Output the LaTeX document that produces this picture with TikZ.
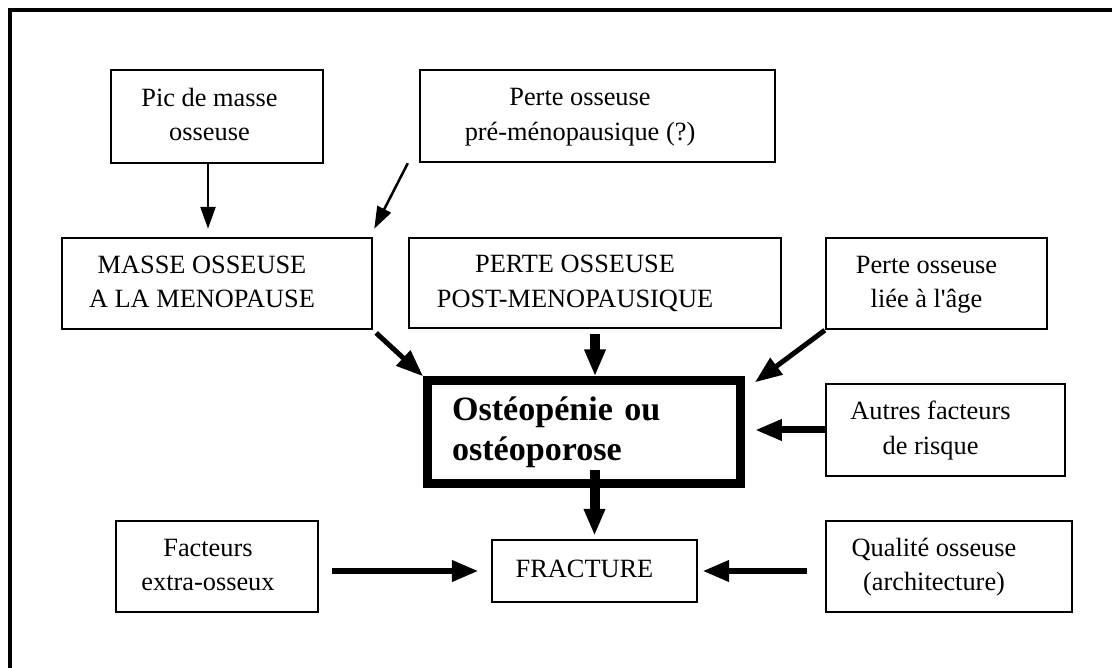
\documentclass[tikz,border=0pt]{standalone}
\usepackage{fontspec}
\setmainfont{Liberation Serif}
\usetikzlibrary{arrows.meta}

% centred lines, pushed left by a right-hand gap
\newcommand{\boxlines}[2]{\begin{tabular}{@{}c@{\hspace{#1}}}#2\end{tabular}}

\begin{document}
\begin{tikzpicture}[x=0.02cm, y=-0.02cm,
  box/.style={draw, line width=0.05cm, inner sep=0pt, font=\fontsize{15}{19.8}\selectfont},
  arrowthin/.style={line width=0.05cm, -{Triangle[length=0.44cm, width=0.3cm]}},
  arrowbold/.style={line width=#1, -{Triangle[length=0.54cm, width=0.4cm]}},
  arrowbold/.default=0.14cm]

\useasboundingbox (0,0) rectangle (1112,668);

% outer frame, cut at the right and at the bottom
\draw[line width=0.07cm] (10,668) -- (10,10) -- (1112,10);

% top row
\node[box, minimum width=4.24cm, minimum height=1.86cm] (pic) at (217,116.5) {\boxlines{0.3cm}{Pic de masse\\osseuse}};
\node[box, minimum width=7.1cm, minimum height=1.84cm] (pre) at (597.5,116) {\boxlines{0.7cm}{Perte osseuse\\pré-ménopausique (?)}};

% second row
\node[box, minimum width=6.2cm, minimum height=1.82cm] (masse) at (217,283.5) {\boxlines{0.6cm}{MASSE OSSEUSE\\A LA MENOPAUSE}};
\node[box, minimum width=7.44cm, minimum height=1.8cm] (post) at (595,283) {\boxlines{0.8cm}{PERTE OSSEUSE\\POST-MENOPAUSIQUE}};
\node[box, minimum width=4.42cm, minimum height=1.82cm] (age) at (936.5,283.5) {\boxlines{0.4cm}{Perte osseuse\\liée à l\textquotesingle{}âge}};

% central box
\node[draw, line width=0.18cm, minimum width=6.26cm, minimum height=2.05cm, text width=5.28cm,
  align=left, inner xsep=0.49cm, font=\bfseries\fontsize{19.4}{22.8}\selectfont] (osteo) at (584,432) {Ostéopénie ou\\ostéoporose};
\node[box, minimum width=4.78cm, minimum height=1.84cm] (autres) at (945.5,430) {\boxlines{0.6cm}{Autres facteurs\\de risque}};

% bottom row
\node[box, minimum width=4.04cm, minimum height=1.82cm] (facteurs) at (217,566.5) {\boxlines{0.36cm}{Facteurs\\extra-osseux}};
\node[box, minimum width=4.1cm, minimum height=1.24cm] (fracture) at (594.5,571) {\boxlines{0.4cm}{FRACTURE}};
\node[box, minimum width=4.92cm, minimum height=1.82cm] (qualite) at (949,566.5) {\boxlines{0.6cm}{Qualité osseuse\\(architecture)}};

% arrows into the second row
\draw[arrowthin, shorten >=0.16cm] ([xshift=-0.18cm]pic.south) -- ([xshift=-0.18cm]pic.south |- masse.north);
\draw[arrowthin] ([xshift=-0.22cm]pre.south west) -- ([shift={(0.02cm,0.16cm)}]masse.north east);

% arrows into the central box
\draw[arrowbold=0.1cm, shorten <=0.08cm] (masse.south east) -- (osteo.north west);
\draw[arrowbold=0.2cm, shorten <=0.1cm] (post.south) -- (post.south |- osteo.north);
\draw[arrowbold=0.1cm] (age.south west) -- ([shift={(0.2cm,-0.12cm)}]osteo.north east);
\draw[arrowbold, shorten >=0.2cm] (autres.west) -- (autres.west -| osteo.east);

% arrows into FRACTURE
\draw[arrowbold=0.2cm, shorten <=-0.36cm, shorten >=0.06cm] (fracture.north |- osteo.south) -- (fracture.north);
\draw[arrowbold, shorten <=0.26cm, shorten >=0.24cm] (fracture.west -| facteurs.east) -- (fracture.west);
\draw[arrowbold, shorten <=0.36cm, shorten >=0.08cm] (fracture.east -| qualite.west) -- (fracture.east);

\end{tikzpicture}
\end{document}
